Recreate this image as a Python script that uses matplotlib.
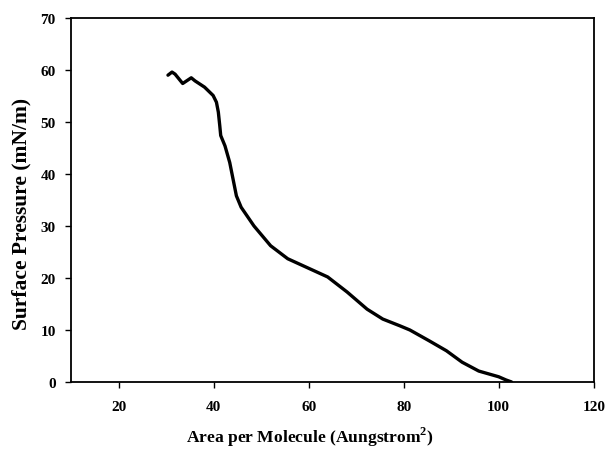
import matplotlib
matplotlib.use('Agg')
import matplotlib.pyplot as plt

# isotherm
area = [30.4, 31.25, 31.9, 33.5, 35.3, 36.1, 38.1, 39.9, 40.6, 41.0, 41.3, 41.5,
        42.4, 43.4, 44.1, 44.8, 45.8, 48.5, 52.0, 55.6, 60.4, 64.0, 68.1, 72.3,
        75.6, 79.2, 81.3, 85.4, 89.0, 92.3, 95.8, 100.0, 101.5, 102.7]
pressure = [59.0, 59.6, 59.2, 57.4, 58.5, 57.9, 56.7, 55.1, 53.8, 51.9, 49.3, 47.4,
            45.4, 42.2, 39.0, 35.8, 33.6, 30.0, 26.2, 23.7, 21.7, 20.2, 17.3, 14.0,
            12.1, 10.8, 10.0, 7.9, 6.0, 3.8, 2.1, 1.0, 0.4, 0.0]

xticks = [20, 40, 60, 80, 100, 120]
yticks = [0, 10, 20, 30, 40, 50, 60, 70]

plt.rcParams['font.family'] = ['Liberation Serif', 'DejaVu Serif']
plt.rcParams['font.weight'] = 'bold'
plt.rcParams['mathtext.fontset'] = 'custom'
plt.rcParams['mathtext.bf'] = 'Liberation Serif:bold'
plt.rcParams['mathtext.rm'] = 'Liberation Serif:bold'

fig = plt.figure(figsize=(6.09, 4.52), dpi=100)
ax = fig.add_axes([0.1166, 0.1527, 0.8584, 0.8053])

ax.plot(area, pressure, color='black', linewidth=2.4, solid_capstyle='round')

ax.set_xlim(10, 120)
ax.set_ylim(0, 70)
ax.set_xticks(xticks)
ax.set_yticks(yticks)
ax.tick_params(direction='out', length=4, width=1, labelsize=11)
ax.tick_params(axis='x', pad=9)
ax.tick_params(axis='y', pad=7)
for lab in ax.get_xticklabels() + ax.get_yticklabels():
    lab.set_fontweight('bold')
for sp in ax.spines.values():
    sp.set_linewidth(1.3)

ax.set_xlabel('Area per Molecule (Aungstrom$^{2}$)', fontsize=12.6,
              fontweight='bold', va='center')
ax.xaxis.set_label_coords(0.457, -0.148)
ax.set_ylabel('Surface Pressure (mN/m)', fontsize=15.5, fontweight='bold', va='center')
ax.yaxis.set_label_coords(-0.094, 0.464)

fig.savefig('out.png', dpi=100)
